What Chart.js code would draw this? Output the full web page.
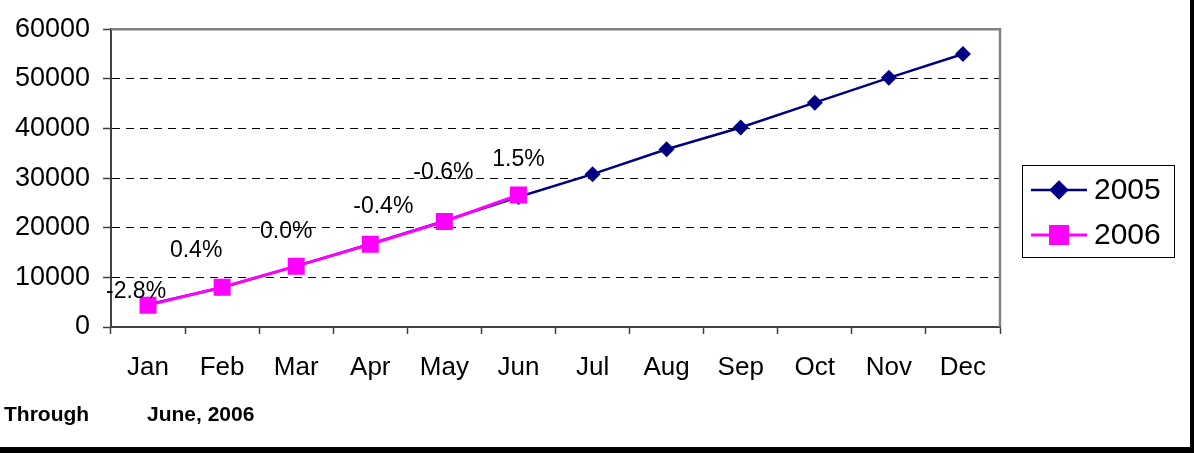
<!DOCTYPE html>
<html>
<head>
<meta charset="utf-8">
<script src="https://cdn.jsdelivr.net/npm/chart.js@4/dist/chart.umd.min.js"></script>
<style>
  html, body { margin: 0; padding: 0; background: #fff; }
  #wrap {
    width: 1194px; height: 453px; box-sizing: border-box;
    border-right: 4px solid #000; border-bottom: 6px solid #000;
  }
  canvas { display: block; }
</style>
</head>
<body>
<div id="wrap"><canvas id="lineChart" width="1190" height="447"></canvas></div>
<script>
// 月別の累計値（2005年は通年、2006年は6月まで）
const months = ["Jan", "Feb", "Mar", "Apr", "May", "Jun", "Jul", "Aug", "Sep", "Oct", "Nov", "Dec"];
const values2005 = [4530, 7970, 12260, 16730, 21390, 26200, 30800, 35800, 40200, 45200, 50200, 55000];
const values2006 = [4400, 8000, 12260, 16660, 21260, 26600];
const pctLabels = ["-2.8%", "0.4%", "0.0%", "-0.4%", "-0.6%", "1.5%"];
const yTicks = [0, 10000, 20000, 30000, 40000, 50000, 60000];

// ラベルの位置（点からのずれ、px）
const pctOffsets = [[-12, -14], [-26, -37], [-10, -34], [13, -38], [-1, -49], [0, -35]];

const FONT = "'Liberation Sans', Arial, sans-serif";

//枠線・パーセント表示・凡例・注記を描くプラグイン
const extras = {
    id: "extras",
    afterDatasetsDraw(chart) {
        const ctx = chart.ctx;
        const area = chart.chartArea;
        const x = chart.scales.x;
        const y = chart.scales.y;

        // 上と右の枠線
        ctx.save();
        ctx.strokeStyle = "#808080";
        ctx.lineWidth = 2.5;
        ctx.beginPath();
        ctx.moveTo(area.left, area.top);
        ctx.lineTo(area.right, area.top);
        ctx.lineTo(area.right, area.bottom);
        ctx.stroke();

        // パーセント表示
        ctx.fillStyle = "#000";
        ctx.font = "23px " + FONT;
        ctx.textAlign = "center";
        ctx.textBaseline = "middle";
        pctLabels.forEach(function (text, i) {
            const px = x.getPixelForValue(i) + pctOffsets[i][0];
            const py = y.getPixelForValue(values2006[i]) + pctOffsets[i][1];
            ctx.fillText(text, px, py);
        });

        // 凡例
        const lx = 1022, ly = 165, lw = 152, lh = 92;
        ctx.fillStyle = "#fff";
        ctx.fillRect(lx, ly, lw, lh);
        ctx.strokeStyle = "#000";
        ctx.lineWidth = 1;
        ctx.strokeRect(lx + 0.5, ly + 0.5, lw, lh);
        const rows = [190, 235];
        chart.data.datasets.forEach(function (ds, i) {
            const ry = rows[i];
            ctx.strokeStyle = ds.borderColor;
            ctx.lineWidth = ds.borderWidth;
            ctx.beginPath();
            ctx.moveTo(1031, ry);
            ctx.lineTo(1087, ry);
            ctx.stroke();
            Chart.helpers.drawPoint(ctx, {
                pointStyle: ds.pointStyle,
                radius: ds.pointRadius,
                borderWidth: 1,
                rotation: 0
            }, 1059, ry);
            ctx.fillStyle = ds.backgroundColor;
            ctx.strokeStyle = ds.borderColor;
            ctx.fill();
            ctx.fillStyle = "#000";
            ctx.font = "30px " + FONT;
            ctx.textAlign = "left";
            ctx.textBaseline = "middle";
            ctx.fillText(ds.label, 1094, ry + 1);
        });

        // 注記
        ctx.font = "bold 21px " + FONT;
        ctx.textBaseline = "alphabetic";
        ctx.fillText("Through", 4, 421);
        ctx.fillText("June, 2006", 147, 421);
        ctx.restore();
    }
};

let chartCanvas = document.getElementById("lineChart");
new Chart(chartCanvas, {
    type: "line",
    data: {
        labels: months,
        datasets: [
            {
                label: "2005",
                data: values2005,
                borderColor: "#000080",
                backgroundColor: "#000080",
                borderWidth: 2.5,
                pointStyle: "rectRot",
                pointRadius: 8,
                pointBorderWidth: 0,
                tension: 0,
                order: 2
            },
            {
                label: "2006",
                data: values2006,
                borderColor: "#FF00FF",
                backgroundColor: "#FF00FF",
                borderWidth: 3,
                pointStyle: "rect",
                pointRadius: 12,
                pointBorderWidth: 0,
                tension: 0,
                order: 1
            }
        ]
    },
    options: {
        responsive: false,
        animation: false,
        layout: { padding: { left: 0, top: 28, right: 190, bottom: 60 } },
        plugins: {
            legend: { display: false },
            tooltip: { enabled: false }
        },
        scales: {
            x: {
                offset: true,
                afterFit: function (scale) { scale.height = 60; },
                grid: {
                    offset: true,
                    drawOnChartArea: false,
                    tickLength: 7,
                    tickColor: "#404040",
                    tickWidth: 1.5
                },
                border: { color: "#404040", width: 2 },
                ticks: {
                    color: "#000",
                    font: { family: FONT, size: 26 },
                    padding: 18,
                    maxRotation: 0,
                    autoSkip: false
                }
            },
            y: {
                min: 0,
                max: 60000,
                afterFit: function (scale) { scale.width = 111; },
                afterBuildTicks: function (scale) {
                    scale.ticks = yTicks.map(function (v) { return { value: v }; });
                },
                grid: {
                    color: function (c) {
                        return (c.tick && (c.tick.value === 0 || c.tick.value === 60000)) ? "rgba(0,0,0,0)" : "#000";
                    },
                    lineWidth: 1,
                    tickLength: 8,
                    tickColor: "#404040",
                    tickWidth: 1.5,
                    tickBorderDash: []
                },
                border: { color: "#404040", width: 2, dash: [8, 6] },
                ticks: {
                    color: "#000",
                    font: { family: FONT, size: 27 },
                    padding: 13,
                    callback: function (v) { return String(v); }
                }
            }
        }
    },
    plugins: [extras]
});
</script>
</body>
</html>
